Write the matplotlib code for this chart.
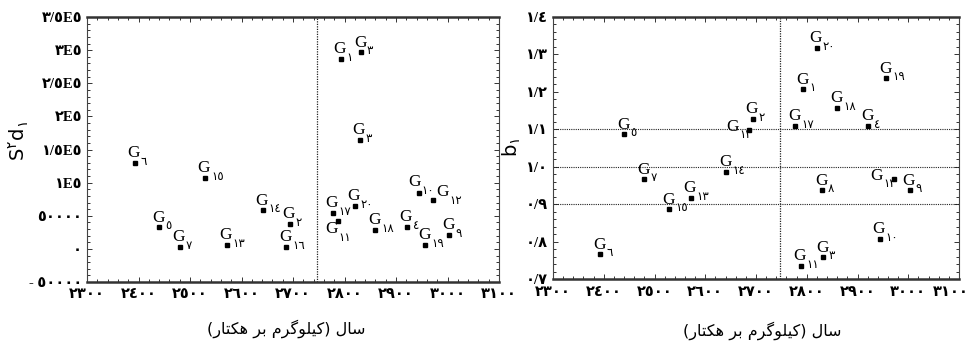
import numpy as np
import matplotlib.pyplot as plt
import matplotlib.transforms as mtransforms
from matplotlib.ticker import AutoMinorLocator

# 20 genotypes: yield (kg/ha), S2d and b
zir_chap = ['١', '٢', '٣', '٤', '٥', '٦', '٧', '٣', '٩', '١٠',
            '١١', '١٢', '١٣', '١٤', '١٥', '١٦', '١٧', '١٨', '١٩', '٢٠']
zir_rast = ['١', '٢', '٣', '٤', '٥', '٦', '٧', '٨', '٩', '١٠',
            '١١', '١٢', '١٣', '١٤', '١٥', '١٢', '١٧', '١٨', '١٩', '٢٠']
amalkard = [2793, 2694, 2832, 2921, 2440, 2393, 2480, 2830, 3003, 2944,
            2788, 2971, 2571, 2641, 2529, 2687, 2777, 2860, 2957, 2820]
s2d = [287000, 38000, 297000, 33500, 32600, 130000, 3300, 164300, 20900, 83900,
       42500, 73300, 5900, 58200, 107400, 3300, 54600, 28500, 6300, 64700]
b = [1.207, 1.128, 0.759, 1.109, 1.087, 0.767, 0.967, 0.938, 0.938, 0.808,
     0.736, 0.968, 0.917, 0.987, 0.887, 1.098, 1.109, 1.158, 1.237, 1.318]

x_ticks = [2300, 2400, 2500, 2600, 2700, 2800, 2900, 3000, 3100]
x_tick_labels = ['٢٣٠٠', '٢٤٠٠', '٢٥٠٠', '٢٦٠٠', '٢٧٠٠', '٢٨٠٠', '٢٩٠٠', '٣٠٠٠', '٣١٠٠']
s2d_ticks = [-50000, 0, 50000, 100000, 150000, 200000, 250000, 300000, 350000]
s2d_tick_labels = ['- ٥٠٠٠٠', '٠', '٥٠٠٠٠', '١E٥', '١/٥E٥', '٢E٥', '٢/٥E٥', '٣E٥', '٣/٥E٥']
b_ticks = [0.7, 0.8, 0.9, 1.0, 1.1, 1.2, 1.3, 1.4]
b_tick_labels = ['٠/٧', '٠/٨', '٠/٩', '١/٠', '١/١', '١/٢', '١/٣', '١/٤']
b_linhas = [0.9, 1.0, 1.1]

# "سال (کیلوگرم بر هکتار)" in presentation forms, visual order
rotulo_x = ('(\uFEAD\uFE8E\uFE98\uFB91\uFEEB \uFEAE\uFE91 '
            '\uFEE1\uFEAE\uFB94\uFEEE\uFEE0\uFBFF\uFB90) \uFEDD\uFE8E\uFEB3')

fonte_tick = ['Liberation Serif', 'DejaVu Sans']


def estilo(ax):
    ax.set_xlim(2300, 3100)
    ax.set_xticks(x_ticks)
    ax.set_xticklabels(x_tick_labels)
    ax.xaxis.set_minor_locator(AutoMinorLocator(5))
    ax.yaxis.set_minor_locator(AutoMinorLocator(5))
    ax.tick_params(which='both', direction='in', top=True, right=True,
                   width=0.7, color='#333333')
    ax.tick_params(which='major', length=3.5)
    ax.tick_params(axis='y', which='major', pad=3.5)
    ax.tick_params(axis='x', which='major', pad=4.5)
    ax.tick_params(which='minor', length=2)
    for lab in ax.get_xticklabels() + ax.get_yticklabels():
        lab.set_family(fonte_tick)
        lab.set_fontsize(10.5)
        lab.set_weight('bold')
    for lado in ['top', 'bottom']:
        ax.spines[lado].set_linewidth(1.8)
        ax.spines[lado].set_color('#333333')
    for lado in ['left', 'right']:
        ax.spines[lado].set_linewidth(0.8)
        ax.spines[lado].set_color('#444444')


def rotular(ax, xs, ys, subs, desloc):
    for i in range(len(xs)):
        dx, dy = desloc.get(i, (0, 0))
        ax.annotate('G', (xs[i], ys[i]), xytext=(-0.7 + dx, 4 + dy),
                    textcoords='offset points', ha='center', va='baseline',
                    fontsize=12.5, family='Liberation Serif')
        ax.annotate(subs[i], (xs[i], ys[i]), xytext=(4.3 + dx, -1.5 + dy),
                    textcoords='offset points', ha='left', va='baseline',
                    fontsize=8.5, family='DejaVu Sans')


fig = plt.figure(figsize=(9.73, 3.47), dpi=100)
ax1 = fig.add_axes([87 / 973, 1 - 282 / 347, 412 / 973, 265 / 347])
ax2 = fig.add_axes([553 / 973, 1 - 279.3 / 347, 406 / 973, 262.3 / 347])

ax1.set_ylim(-50000, 350000)
ax1.set_yticks(s2d_ticks)
ax1.set_yticklabels(s2d_tick_labels)
estilo(ax1)
ax1.axvline(np.mean(amalkard), color='#222222', ls=(0, (1, 1)), lw=0.9)
ax1.plot(amalkard, s2d, 's', color='black', ms=2.4)
rotular(ax1, amalkard, s2d, zir_chap, {9: (-2, 1), 10: (-4, -13), 11: (7.5, -1)})

ax2.set_ylim(0.7, 1.4)
ax2.set_yticks(b_ticks)
ax2.set_yticklabels(b_tick_labels)
estilo(ax2)
ax2.axvline(np.mean(amalkard), color='#222222', ls=(0, (1, 1)), lw=0.9)
for v in b_linhas:
    ax2.axhline(v, color='#222222', ls=(0, (1, 1)), lw=0.8)
ax2.plot(amalkard, b, 's', color='black', ms=2.4)
rotular(ax2, amalkard, b, zir_rast, {11: (-11.8, -4.5), 15: (-11.8, -4.5)})

# last x label of the right panel sits a little left so it stays inside the figure
ultimo = ax2.get_xticklabels()[-1]
ultimo.set_transform(ultimo.get_transform() +
                     mtransforms.ScaledTranslation(-6 / 72, 0, fig.dpi_scale_trans))

fig.text(286 / 973, 1 - 329 / 347, rotulo_x, ha='center', va='center',
         fontsize=11.5, family='DejaVu Sans')
fig.text(762 / 973, 1 - 331 / 347, rotulo_x, ha='center', va='center',
         fontsize=11.5, family='DejaVu Sans')
fig.text(19 / 973, 1 - 141 / 347, r'$\mathregular{S^{٢}d_{١}}$', rotation=90,
         ha='center', va='center', fontsize=14, family='DejaVu Sans')
fig.text(512 / 973, 1 - 147 / 347, r'$\mathregular{b_{١}}$', rotation=90,
         ha='center', va='center', fontsize=14, family='DejaVu Sans')

fig.savefig('out.png', dpi=100)
